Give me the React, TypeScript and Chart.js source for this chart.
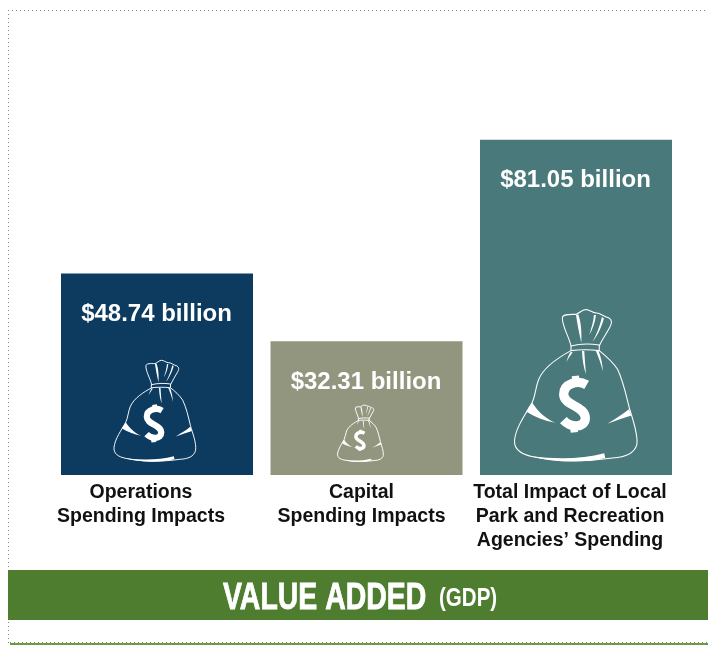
import React, { useEffect, useRef } from "react";
import { Chart, registerables } from "chart.js";

Chart.register(...registerables);

const categories = ["Operations Spending Impacts", "Capital Spending Impacts", "Total Impact of Local Park and Recreation Agencies' Spending"];
const categoryLines = [
  ["Operations", "Spending Impacts"],
  ["Capital", "Spending Impacts"],
  ["Total Impact of Local", "Park and Recreation", "Agencies’ Spending"],
];
const values = [48.74, 32.31, 81.05];
const valueLabels = ["$48.74 billion", "$32.31 billion", "$81.05 billion"];
const barColors = ["#0d3b60", "#93967e", "#4a797c"];
const bannerMain = "VALUE ADDED";
const bannerSub = "(GDP)";

const FONT = '"Liberation Sans", sans-serif';
const GREEN = "#4f7d30";
const BORDER = "#6f9a55";
const labelShift = [-16, -5, -6];
const bagWidth = [82, 46, 123];
const bagShift = [-2, -6, 0];
const BAG_BOTTOM = 462;

function drawBag(ctx: CanvasRenderingContext2D, cx: number, bottom: number, width: number) {
  const s = width / 370;
  ctx.save();
  ctx.translate(cx, bottom);
  ctx.scale(s, s);
  ctx.translate(-320, -514);
  ctx.strokeStyle = "#fff";
  ctx.fillStyle = "#fff";
  ctx.lineWidth = Math.max(3.2, 0.95 / s);
  ctx.lineJoin = "round";
  ctx.lineCap = "round";
  ctx.stroke(new Path2D("M305 165 C298 135 278 105 279 80 C280 68 300 70 320 70 C330 66 338 56 350 55 C362 56 370 66 382 66 C395 66 400 76 418 80 C430 86 428 98 422 108 C412 128 398 145 390 165"));
  ctx.stroke(new Path2D("M305 165 C330 158 365 158 390 162 L390 179 C362 176 330 176 305 179 Z"));
  ctx.stroke(new Path2D("M305 179 C270 198 225 225 208 265 C198 290 198 315 188 335 C170 368 138 410 135 450 C134 475 150 490 190 498 C260 512 340 515 430 502 C470 500 495 490 503 462 C508 430 490 385 480 350 C470 310 462 270 445 235 C430 212 410 195 390 179"));
  const fills = [
    "M188 335 C205 362 230 385 258 396 C225 390 195 378 170 362 Z",
    "M414 399 C440 382 462 370 479 355 L487 374 C465 380 440 390 414 399 Z",
    "M185 497 C260 506 340 506 405 488 L408 502 C340 518 250 516 185 497 Z",
    "M320 72 C324 100 330 130 336 155 C337 125 336 95 327 70 Z",
    "M374 72 C372 95 366 112 360 132 C370 115 378 92 380 72 Z",
    "M398 78 C392 105 382 130 370 152 C384 135 398 105 404 82 Z",
    "M338 180 C339 205 343 230 350 250 C348 225 346 200 345 180 Z",
    "M380 180 C388 200 396 220 401 242 C400 220 395 198 388 180 Z",
    "M304 182 C298 192 294 202 291 214 C296 204 302 195 310 184 Z",
  ];
  fills.forEach((f) => ctx.fill(new Path2D(f)));
  ctx.lineCap = "butt";
  ctx.lineWidth = 28;
  ctx.stroke(new Path2D("M352 282 C325 266 283 278 283 310 C283 345 348 345 348 382 C348 412 305 412 282 388"));
  ctx.lineWidth = 22;
  ctx.stroke(new Path2D("M318 255 L321 278 M312 400 L315 425"));
  ctx.restore();
}

function squeezed(ctx: any, text: string, x: number, y: number, sx: number, bold = 0) {
  ctx.save();
  ctx.translate(x, y);
  ctx.scale(sx, 1);
  ctx.fillText(text, 0, 0);
  if (bold > 0) {
    ctx.strokeStyle = ctx.fillStyle;
    ctx.lineWidth = bold;
    ctx.strokeText(text, 0, 0);
  }
  ctx.restore();
}

const decor = {
  id: "decor",
  beforeDraw(chart: any) {
    const ctx: CanvasRenderingContext2D = chart.ctx;
    ctx.save();
    ctx.strokeStyle = BORDER;
    ctx.lineWidth = 1;
    ctx.setLineDash([1, 3]);
    ctx.beginPath();
    ctx.moveTo(8, 10.5);
    ctx.lineTo(706, 10.5);
    ctx.moveTo(8.5, 10);
    ctx.lineTo(8.5, 644);
    ctx.moveTo(10, 642.5);
    ctx.lineTo(708, 642.5);
    ctx.stroke();
    ctx.setLineDash([]);
    ctx.strokeStyle = "#6a9a45";
    ctx.lineWidth = 2;
    ctx.beginPath();
    ctx.moveTo(10, 644);
    ctx.lineTo(708, 644);
    ctx.stroke();
    ctx.fillStyle = GREEN;
    ctx.fillRect(8, 570, 700, 50);
    ctx.restore();
  },
  afterDraw(chart: any) {
    const ctx: any = chart.ctx;
    const x = chart.scales.x;
    const y = chart.scales.y;
    ctx.save();
    ctx.textBaseline = "alphabetic";
    ctx.textAlign = "center";
    values.forEach((v, i) => {
      const cx = x.getPixelForValue(i);
      const top = y.getPixelForValue(v);
      ctx.fillStyle = "#fff";
      ctx.font = `bold 24px ${FONT}`;
      ctx.fillText(valueLabels[i], cx - 0.5, top + 47.5);
      drawBag(ctx, cx + bagShift[i], BAG_BOTTOM, bagWidth[i]);
      ctx.fillStyle = "#111";
      ctx.font = `bold 19.5px ${FONT}`;
      categoryLines[i].forEach((line, k) => {
        ctx.fillText(line, cx + labelShift[i], y.getPixelForValue(0) + 23 + k * 24);
      });
    });
    ctx.fillStyle = "#fff";
    ctx.textAlign = "left";
    ctx.font = `bold 36px ${FONT}`;
    squeezed(ctx, bannerMain, 223, 609, 0.79, 0.8);
    ctx.font = `bold 26px ${FONT}`;
    squeezed(ctx, bannerSub, 439, 606, 0.79);
    ctx.restore();
  },
};

export default function App() {
  const ref = useRef<HTMLCanvasElement>(null);
  useEffect(() => {
    document.body.style.margin = "0";
    const chart = new Chart(ref.current!, {
      type: "bar",
      data: {
        labels: categories,
        datasets: [
          {
            data: values,
            backgroundColor: barColors,
            borderWidth: 0,
            barPercentage: 0.9165,
            categoryPercentage: 1,
          },
        ],
      },
      options: {
        animation: false,
        responsive: false,
        layout: { padding: { left: 52.25, right: 27.25, top: 20, bottom: 170 } },
        plugins: { legend: { display: false }, tooltip: { enabled: false } },
        scales: {
          x: { display: false, grid: { display: false } },
          y: { display: false, min: 0, max: 110, grid: { display: false } },
        },
      },
      plugins: [decor],
    });
    return () => chart.destroy();
  }, []);
  return <canvas ref={ref} width={708} height={645} style={{ display: "block" }} />;
}
